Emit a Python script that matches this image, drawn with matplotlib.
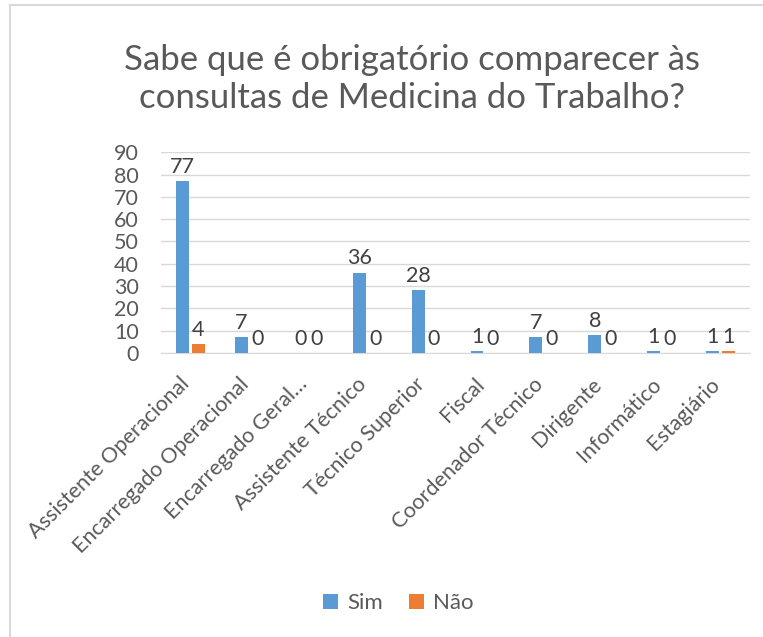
import numpy as np
import matplotlib
matplotlib.use("Agg")
import matplotlib.pyplot as plt
from matplotlib.lines import Line2D
from matplotlib.transforms import ScaledTranslation

categories = ["Assistente Operacional", "Encarregado Operacional", "Encarregado Geral…",
              "Assistente Técnico", "Técnico Superior", "Fiscal", "Coordenador Técnico",
              "Dirigente", "Informático", "Estagiário"]
sim = [77, 7, 0, 36, 28, 1, 7, 8, 1, 1]
nao = [4, 0, 0, 0, 0, 0, 0, 0, 0, 1]

text_color = "#595959"
plt.rcParams["font.family"] = ["Lato", "DejaVu Sans"]

fig = plt.figure(figsize=(7.63, 6.37), dpi=100)
ax = fig.add_axes([0.211, 0.446, 0.772, 0.315])

x = np.arange(len(categories))
w = 0.22
off = 0.135
b1 = ax.bar(x - off, sim, w, color="#5B9BD5", label="Sim", zorder=3)
b2 = ax.bar(x + off, nao, w, color="#ED7D31", label="Não", zorder=3)

for bars in (b1, b2):
    for rect in bars:
        h = rect.get_height()
        ax.annotate(str(int(h)), (rect.get_x() + rect.get_width() / 2, h),
                    xytext=(0, 3), textcoords="offset points", ha="center", va="bottom",
                    fontsize=15.5, color="#404040")

ax.set_ylim(0, 90)
ax.set_yticks(range(0, 91, 10))
ax.set_xlim(-0.5, len(categories) - 0.5)
ax.set_xticks(x)
ax.set_xticklabels(categories, rotation=45, ha="right", rotation_mode="anchor")
ax.tick_params(axis="both", length=0, colors=text_color)
ax.tick_params(axis="y", pad=16, labelsize=15.5)
ax.tick_params(axis="x", pad=8, labelsize=15.5)
shift = ScaledTranslation(-0.11, -0.10, fig.dpi_scale_trans)
for lbl in ax.get_xticklabels():
    lbl.set_transform(lbl.get_transform() + shift)
ax.grid(axis="y", color="#d9d9d9", linewidth=1, zorder=0)
for s in ("top", "right", "left"):
    ax.spines[s].set_visible(False)
ax.spines["bottom"].set_color("#d9d9d9")

fig.text(0.54, 0.876, "Sabe que é obrigatório comparecer às\nconsultas de Medicina do Trabalho?",
         ha="center", va="center", fontsize=25, color=text_color, linespacing=1.2)

fig.legend(handles=[b1, b2], loc="center", bbox_to_anchor=(0.522, 0.053), ncol=2,
           frameon=False, fontsize=16, labelcolor=text_color, handlelength=0.65,
           handleheight=0.65, handletextpad=0.4, columnspacing=1.2)

# chart frame (only left and top edges fall inside the image)
fx, fy = 10 / 763, 1 - 5 / 637
fig.add_artist(Line2D([fx, fx], [0, fy], transform=fig.transFigure, color="#d9d9d9", lw=1.5))
fig.add_artist(Line2D([fx, 1], [fy, fy], transform=fig.transFigure, color="#d9d9d9", lw=1.5))

fig.savefig("out.png", dpi=100)
